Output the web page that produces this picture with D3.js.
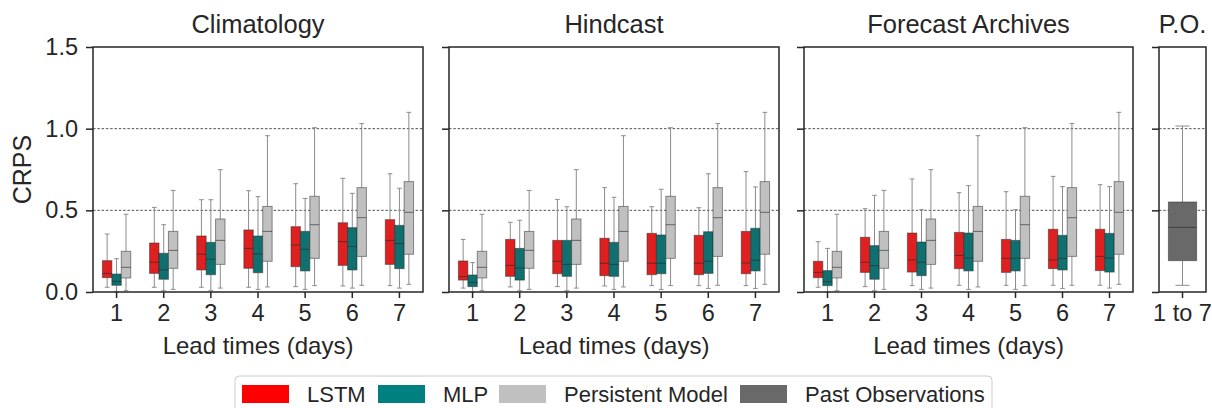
<!DOCTYPE html>
<html>
<head>
<meta charset="utf-8">
<script src="https://cdn.jsdelivr.net/npm/d3@7"></script>
<style>
  html, body { margin: 0; padding: 0; background: #fff; }
  svg { display: block; font-family: "Liberation Sans", Arial, sans-serif; }
</style>
</head>
<body>
<svg id="chart" width="1212" height="408"></svg>
<script>
// ---------------- data ----------------
const categories = ["1", "2", "3", "4", "5", "6", "7"];
const panelTitles = ["Climatology", "Hindcast", "Forecast Archives"];
const models = ["LSTM", "MLP", "Persistent Model"];
const yTicks = [0, 0.5, 1.0, 1.5];
// each box: [whiskerLow, q1, median, q3, whiskerHigh]
const climLSTM = [
  [0.029, 0.088, 0.114, 0.192, 0.355],
  [0.029, 0.114, 0.182, 0.300, 0.518],
  [0.029, 0.135, 0.231, 0.343, 0.565],
  [0.029, 0.145, 0.267, 0.380, 0.620],
  [0.033, 0.155, 0.288, 0.400, 0.663],
  [0.037, 0.163, 0.308, 0.424, 0.696],
  [0.039, 0.169, 0.316, 0.443, 0.724]
];
const climMLP = [
  [0.002, 0.041, 0.065, 0.110, 0.204],
  [0.008, 0.078, 0.135, 0.237, 0.412],
  [0.008, 0.106, 0.200, 0.304, 0.565],
  [0.016, 0.118, 0.233, 0.343, 0.584],
  [0.016, 0.129, 0.261, 0.371, 0.573],
  [0.024, 0.135, 0.278, 0.394, 0.604],
  [0.024, 0.143, 0.296, 0.408, 0.635]
];
const persistent = [
  [0.008, 0.086, 0.151, 0.249, 0.476],
  [0.016, 0.145, 0.255, 0.371, 0.622],
  [0.024, 0.169, 0.316, 0.447, 0.749],
  [0.031, 0.188, 0.371, 0.524, 0.957],
  [0.039, 0.206, 0.412, 0.586, 1.006],
  [0.041, 0.218, 0.455, 0.639, 1.031],
  [0.047, 0.231, 0.488, 0.676, 1.100]
];
const hindLSTM = [
  [0.024, 0.073, 0.094, 0.190, 0.322],
  [0.031, 0.096, 0.163, 0.322, 0.427],
  [0.033, 0.112, 0.188, 0.316, 0.567],
  [0.037, 0.100, 0.176, 0.329, 0.639],
  [0.039, 0.106, 0.176, 0.359, 0.522],
  [0.039, 0.106, 0.176, 0.347, 0.516],
  [0.039, 0.112, 0.178, 0.371, 0.737]
];
const hindMLP = [
  [0.000, 0.033, 0.059, 0.104, 0.180],
  [0.008, 0.073, 0.147, 0.267, 0.439],
  [0.008, 0.096, 0.169, 0.316, 0.522],
  [0.016, 0.096, 0.169, 0.304, 0.580],
  [0.016, 0.112, 0.176, 0.349, 0.629],
  [0.022, 0.114, 0.188, 0.369, 0.724],
  [0.022, 0.129, 0.194, 0.390, 0.643]
];
const faLSTM = [
  [0.029, 0.088, 0.120, 0.188, 0.308],
  [0.033, 0.120, 0.182, 0.335, 0.510],
  [0.039, 0.122, 0.196, 0.361, 0.692],
  [0.041, 0.143, 0.224, 0.365, 0.608],
  [0.041, 0.120, 0.206, 0.322, 0.614],
  [0.041, 0.143, 0.196, 0.384, 0.708],
  [0.041, 0.131, 0.218, 0.384, 0.657]
];
const faMLP = [
  [0.000, 0.039, 0.063, 0.131, 0.267],
  [0.008, 0.078, 0.161, 0.284, 0.592],
  [0.016, 0.100, 0.182, 0.306, 0.504],
  [0.016, 0.129, 0.208, 0.361, 0.651],
  [0.016, 0.129, 0.208, 0.316, 0.504],
  [0.022, 0.135, 0.206, 0.347, 0.645],
  [0.024, 0.122, 0.208, 0.359, 0.645]
];
const pastObsCategory = ["1 to 7"];
const pastObs = [[0.041, 0.192, 0.396, 0.551, 1.016]];
const legendLabels = ["LSTM", "MLP", "Persistent Model", "Past Observations"];

// ---------------- styles ----------------
const boxFill = { "LSTM": "#df2020", "MLP": "#107070", "Persistent Model": "#c0c0c0", "Past Observations": "#696969" };
const legendFill = { "LSTM": "#ff0000", "MLP": "#008080", "Persistent Model": "#c0c0c0", "Past Observations": "#696969" };
const ink = "#262626";

const svg = d3.select("#chart");
const plotTop = 47, plotBottom = 292;
const y = d3.scaleLinear().domain([0, 1.5]).range([plotBottom, plotTop]);

const panelDefs = [
  { title: panelTitles[0], x0: 93, x1: 423, cats: categories, series: [climLSTM, climMLP, persistent], keys: models },
  { title: panelTitles[1], x0: 449, x1: 779, cats: categories, series: [hindLSTM, hindMLP, persistent], keys: models },
  { title: panelTitles[2], x0: 804, x1: 1133, cats: categories, series: [faLSTM, faMLP, persistent], keys: models },
  { title: "P.O.", x0: 1159, x1: 1206, cats: pastObsCategory, series: [pastObs], keys: ["Past Observations"] }
];

panelDefs.forEach((p, pi) => {
  const g = svg.append("g");
  const x = d3.scaleBand().domain(p.cats).range([p.x0, p.x1]).padding(0);
  const bw = x.bandwidth();
  const sub = d3.scaleBand().domain(p.keys).range([0.2 * bw, 0.8 * bw]).padding(0);

  // gridlines
  g.selectAll("line.grid").data([0.5, 1.0]).join("line")
    .attr("x1", p.x0).attr("x2", p.x1)
    .attr("y1", d => y(d)).attr("y2", d => y(d))
    .attr("stroke", ink).attr("stroke-width", 0.8).attr("stroke-dasharray", "2.5,1.8");

  // boxes
  p.series.forEach((ser, si) => {
    const key = p.keys[si];
    const w = sub.bandwidth();
    const grp = g.append("g");
    ser.forEach((b, ci) => {
      const cx = x(p.cats[ci]) + sub(key) + w / 2;
      const [wl, q1, md, q3, wh] = b;
      const capW = w * 0.5;
      const wcol = "#8c8c8c";
      grp.append("line").attr("x1", cx).attr("x2", cx).attr("y1", y(wl)).attr("y2", y(q1))
        .attr("stroke", wcol).attr("stroke-width", 1);
      grp.append("line").attr("x1", cx).attr("x2", cx).attr("y1", y(q3)).attr("y2", y(wh))
        .attr("stroke", wcol).attr("stroke-width", 1);
      grp.append("line").attr("x1", cx - capW / 2).attr("x2", cx + capW / 2).attr("y1", y(wl)).attr("y2", y(wl))
        .attr("stroke", wcol).attr("stroke-width", 1);
      grp.append("line").attr("x1", cx - capW / 2).attr("x2", cx + capW / 2).attr("y1", y(wh)).attr("y2", y(wh))
        .attr("stroke", wcol).attr("stroke-width", 1);
      grp.append("rect").attr("x", cx - w / 2).attr("width", w)
        .attr("y", y(q3)).attr("height", y(q1) - y(q3))
        .attr("fill", boxFill[key]).attr("stroke", ink).attr("stroke-opacity", 0.5).attr("stroke-width", 1);
      grp.append("line").attr("x1", cx - w / 2).attr("x2", cx + w / 2).attr("y1", y(md)).attr("y2", y(md))
        .attr("stroke", ink).attr("stroke-opacity", 0.6).attr("stroke-width", 1);
    });
  });

  // axes
  const ya = d3.axisLeft(y).tickValues(yTicks).tickSize(7).tickSizeOuter(0).tickPadding(8)
    .tickFormat(pi === 0 ? d3.format(".1f") : () => "");
  const yg = g.append("g").attr("transform", `translate(${p.x0},0)`).call(ya);
  yg.select(".domain").remove();
  yg.selectAll("line").attr("stroke", ink).attr("stroke-width", 1.5);
  yg.selectAll("text").attr("font-size", 23.5).attr("fill", ink);

  const xa = d3.axisBottom(x).tickSize(6).tickSizeOuter(0).tickPadding(6);
  const xg = g.append("g").attr("transform", `translate(0,${plotBottom})`).call(xa);
  xg.select(".domain").remove();
  xg.selectAll("line").attr("stroke", ink).attr("stroke-width", 1.5);
  xg.selectAll("text").attr("font-size", 23.5).attr("fill", ink);

  // frame
  g.append("rect").attr("x", p.x0).attr("y", plotTop).attr("width", p.x1 - p.x0).attr("height", plotBottom - plotTop)
    .attr("fill", "none").attr("stroke", ink).attr("stroke-width", 1.5);

  // title
  g.append("text").attr("x", (p.x0 + p.x1) / 2).attr("y", 33).attr("text-anchor", "middle")
    .attr("font-size", 25.5).attr("fill", ink).text(p.title);

  if (pi < 3) {
    g.append("text").attr("x", (p.x0 + p.x1) / 2).attr("y", 354).attr("text-anchor", "middle")
      .attr("font-size", 24).attr("fill", ink).text("Lead times (days)");
  }
});

// y label
svg.append("text").attr("transform", `translate(31,${(plotTop + plotBottom) / 2}) rotate(-90)`)
  .attr("text-anchor", "middle").attr("font-size", 25).attr("fill", ink).text("CRPS");

// legend
const lg = svg.append("g");
lg.append("rect").attr("x", 235).attr("y", 376).attr("width", 757).attr("height", 44).attr("rx", 4)
  .attr("fill", "#fff").attr("stroke", "#cccccc").attr("stroke-width", 1);
const legX = d3.scaleOrdinal().domain(legendLabels).range([242, 378, 499, 740]);
legendLabels.forEach(k => {
  lg.append("rect").attr("x", legX(k)).attr("y", 385).attr("width", 47).attr("height", 18).attr("fill", legendFill[k]);
  lg.append("text").attr("x", legX(k) + 65).attr("y", 402).attr("font-size", 22).attr("fill", ink).text(k);
});
</script>
</body>
</html>
